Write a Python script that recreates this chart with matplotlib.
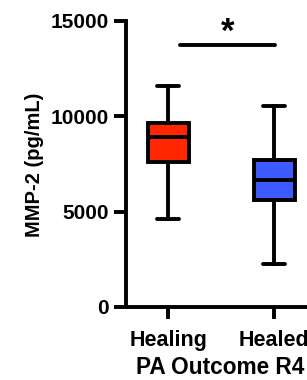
import matplotlib
matplotlib.use("Agg")
import matplotlib.pyplot as plt

# summary values (pg/mL)
groups = ["Healing", "Healed"]
whisker_low = [4620, 2260]
q1 = [7610, 5610]
median = [8920, 6660]
q3 = [9650, 7710]
whisker_high = [11600, 10550]
box_colors = ["#FF2600", "#3C5AFF"]
sig_y = 13750

plt.rcParams["font.family"] = ["Liberation Sans", "DejaVu Sans"]
plt.rcParams["font.weight"] = "bold"

fig = plt.figure(figsize=(3.07, 3.8), dpi=100)
ax = fig.add_axes([126 / 307, 1 - 307 / 380, 1 - 126 / 307, (307 - 21) / 380])

stats = []
for i, g in enumerate(groups):
    stats.append(dict(label=g, whislo=whisker_low[i], q1=q1[i], med=median[i],
                      q3=q3[i], whishi=whisker_high[i], fliers=[]))

lw = 2.8
bp = ax.bxp(stats, positions=range(len(groups)), widths=0.39, patch_artist=True,
            showfliers=False,
            boxprops=dict(linewidth=lw, edgecolor="black"),
            medianprops=dict(linewidth=lw, color="black"),
            whiskerprops=dict(linewidth=lw, color="black"),
            capprops=dict(linewidth=lw, color="black", solid_capstyle="round"),
            capwidths=0.21)
for patch, c in zip(bp["boxes"], box_colors):
    patch.set_facecolor(c)

ax.set_xlim(-0.4, 1.31)
ax.set_ylim(0, 15000)
ax.set_yticks([0, 5000, 10000, 15000])
ax.set_xticks(range(len(groups)))
ax.set_xticklabels(groups)

for s in ["top", "right"]:
    ax.spines[s].set_visible(False)
for s in ["left", "bottom"]:
    ax.spines[s].set_linewidth(lw)
ax.spines["left"].set_bounds(0, 15000)
ax.tick_params(axis="both", width=lw, length=8.5)
ax.tick_params(axis="y", pad=4, labelsize=15)
ax.tick_params(axis="x", pad=8, labelsize=15.5)
for lab in ax.get_xticklabels() + ax.get_yticklabels():
    lab.set_fontweight("bold")

# significance bar
ax.plot([0.11, 1.01], [sig_y, sig_y], color="black", linewidth=lw,
        solid_capstyle="round", clip_on=False)
ax.text(0.56, 13550, "*", ha="center", va="bottom", fontsize=25,
        fontweight="bold", clip_on=False)

fig.text(35 / 307, 1 - 165 / 380, "MMP-2 (pg/mL)", rotation=90, ha="center",
         va="center", fontsize=14.5, fontweight="bold")
fig.text(220 / 307, 1 - 368 / 380, "PA Outcome R4", ha="center", va="center",
         fontsize=16.3, fontweight="bold")

fig.savefig("out.png", dpi=100)
